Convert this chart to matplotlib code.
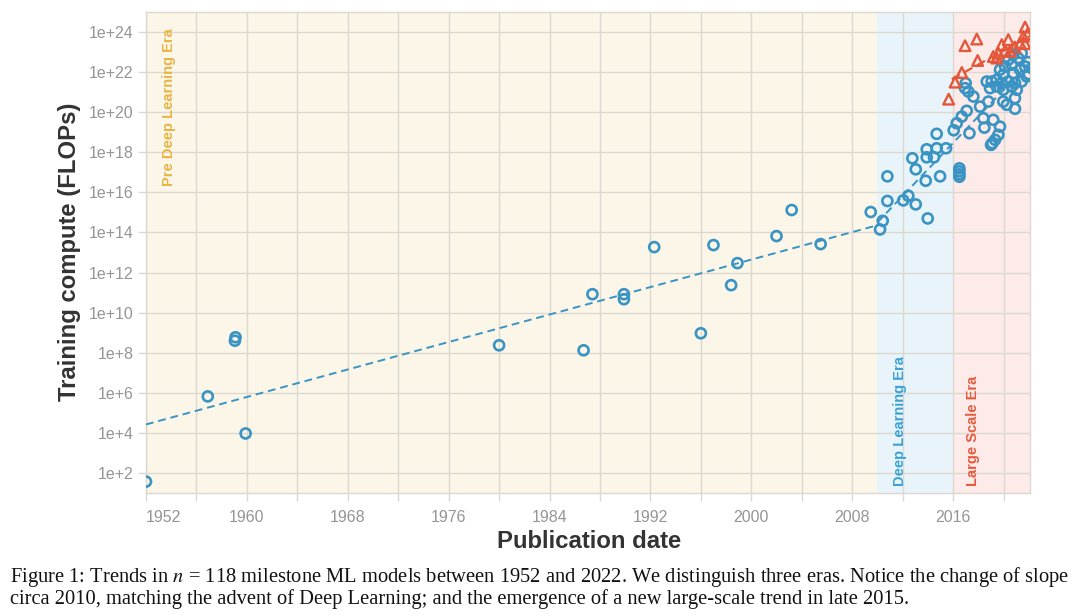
import numpy as np
import matplotlib
matplotlib.use("Agg")
import matplotlib.pyplot as plt

# ---------------- data (publication year, log10 FLOPs) ----------------
blue_year = [1952.0, 1956.9, 1959.05, 1959.1, 1959.9, 1980.0, 1986.7, 1987.4, 1989.9, 1989.9,
             1992.3, 1996.0, 1997.0, 1998.4, 1998.9, 2002.0, 2003.2, 2005.5, 2009.47, 2010.21,
             2010.42,
             2010.79, 2010.79, 2012.05, 2012.45, 2013.04, 2013.04, 2012.77, 2013.91, 2014.49,
             2013.83, 2014.97, 2013.99, 2013.91, 2014.70, 2015.44, 2014.70,
             2016.5, 2016.5, 2016.5, 2016.5,
             2016.05, 2016.29, 2016.69, 2016.95, 2017.0, 2017.21, 2017.08, 2017.61, 2018.14, 2018.80,
             2018.40, 2018.48, 2017.30, 2019.19, 2019.72, 2019.59, 2019.33, 2019.11, 2019.01,
             2018.93, 2019.46, 2019.98, 2020.65, 2021.05, 2019.98, 2020.26, 2020.91, 2020.91,
             2019.72, 2020.12, 2020.65, 2021.17, 2021.44, 2020.78, 2020.38, 2019.98, 2020.78,
             2021.31, 2021.71, 2021.84, 2021.44, 2020.91, 2020.38, 2019.86, 2019.46, 2019.06,
             2018.67, 2021.95, 2022.0]
blue_log = [1.57, 5.82, 8.6, 8.77, 3.97, 8.37, 8.12, 10.92, 10.92, 10.67,
            13.27, 8.97, 13.37, 11.37, 12.47, 13.82, 15.12, 13.42, 15.02, 14.15,
            14.58,
            16.8, 15.57, 15.6, 15.83, 15.4, 17.15, 17.7, 17.75, 17.75,
            16.58, 16.8, 14.7, 18.15, 18.2, 18.2, 18.92,
            17.2, 17.05, 16.9, 16.78,
            19.1, 19.45, 19.78, 21.2, 21.45, 21.03, 20.07, 20.78, 20.28, 20.53,
            19.7, 19.23, 18.95, 19.62, 19.28, 18.87, 18.62, 18.45, 18.37,
            21.2, 21.28, 21.12, 21.28, 21.12, 20.53, 20.37, 20.7, 20.17,
            22.12, 22.28, 22.37, 22.7, 22.95, 22.87, 22.62, 21.87, 21.95,
            22.12, 22.28, 21.78, 21.53, 21.45, 21.53, 21.45, 21.62, 21.53,
            21.53, 22.5, 21.9]

red_year = [2015.65, 2016.16, 2016.69, 2016.95, 2017.88, 2017.95, 2019.19, 2019.46, 2019.59,
            2019.86, 2020.12, 2020.38, 2020.52, 2021.31, 2021.57, 2021.71, 2021.71, 2021.9,
            2020.9]
red_log = [20.65, 21.5, 21.98, 23.32, 23.65, 22.58, 22.78, 22.7, 22.95,
           23.37, 23.08, 23.62, 23.03, 23.45, 23.78, 24.25, 23.42, 23.9,
           23.25]

# trend lines (endpoints: year, log10 FLOPs)
pre_dl_trend_year = [1952.0, 2010.0]
pre_dl_trend_log = [4.42, 14.36]
dl_trend_year = [2010.0, 2022.1]
dl_trend_log = [14.5, 22.5]
ls_trend_year = [2015.9, 2022.1]
ls_trend_log = [21.65, 23.8]

# eras
era_names = ["Pre Deep Learning Era", "Deep Learning Era", "Large Scale Era"]
era_start = [1952.0, 2010.0, 2016.0]
era_end = [2010.0, 2016.0, 2022.1]

x_ticks = list(range(1952, 2021, 4))
x_labels = [str(y) if (y - 1952) % 8 == 0 else "" for y in x_ticks]
y_exps = list(range(2, 25, 2))
y_labels = [f"1e+{e}" for e in y_exps]

caption_lines = [
    r"Figure 1: Trends in $n$ = 118 milestone ML models between 1952 and 2022. We distinguish three eras. Notice the change of slope",
    "circa 2010, matching the advent of Deep Learning; and the emergence of a new large-scale trend in late 2015.",
]

# ---------------- style ----------------
BLUE = "#3a94c3"
RED = "#e4573a"
band_colors = ["#fbf6e8", "#e8f4fa", "#fdebea"]
text_colors = ["#e8b443", "#38a2d6", "#e45a3c"]
GRID = "#dcd8cf"
TICKC = "#959595"

plt.rcParams["font.family"] = ["Liberation Sans", "DejaVu Sans"]
plt.rcParams["mathtext.fontset"] = "stix"

fig = plt.figure(figsize=(10.8, 6.16), dpi=100)
ax = fig.add_axes([146 / 1080, 1 - 493 / 616, (1030 - 146) / 1080, (493 - 12) / 616])

ax.set_yscale("log")
ax.set_xlim(1952.0, 2022.1)
ax.set_ylim(1e1, 1e25)

for s, e, c in zip(era_start, era_end, band_colors):
    ax.axvspan(s, e, color=c, zorder=0, lw=0)

ax.set_xticks(x_ticks)
ax.set_xticklabels(x_labels)
ax.set_yticks([10.0 ** e for e in y_exps])
ax.set_yticklabels(y_labels)
ax.yaxis.set_minor_locator(matplotlib.ticker.NullLocator())
ax.xaxis.set_minor_locator(matplotlib.ticker.NullLocator())
ax.grid(True, color=GRID, lw=1.0, zorder=1)
ax.set_axisbelow(True)
ax.tick_params(axis="both", colors=GRID, labelcolor=TICKC, labelsize=11.5, length=6, width=1)
ax.tick_params(axis="x", pad=6)
ax.tick_params(axis="y", pad=3)
lbls = ax.get_xticklabels()
lbls[0].set_horizontalalignment("left")
for sp in ax.spines.values():
    sp.set_color(GRID)
    sp.set_linewidth(1.0)

# trend lines
ax.plot(pre_dl_trend_year, [10.0 ** v for v in pre_dl_trend_log], ls=(0, (4, 2.5)), color=BLUE, lw=1.4, zorder=3)
ax.plot(dl_trend_year, [10.0 ** v for v in dl_trend_log], ls=(0, (4, 2.5)), color=BLUE, lw=1.4, zorder=3)
ax.plot(ls_trend_year, [10.0 ** v for v in ls_trend_log], ls=(0, (4, 2.5)), color=RED, lw=1.6, zorder=3)

# points
ax.scatter(blue_year, [10.0 ** v for v in blue_log], s=52, facecolors="none",
           edgecolors=BLUE, linewidths=1.9, zorder=4)
ax.scatter(red_year, [10.0 ** v for v in red_log], s=58, marker="^", facecolors="none",
           edgecolors=RED, linewidths=1.7, zorder=5)

# era labels
ax.text(1953.8, 10 ** 24.2, era_names[0], rotation=90, ha="center", va="top",
        color=text_colors[0], fontsize=10.5, fontweight="bold")
ax.text(2011.8, 10 ** 1.35, era_names[1], rotation=90, ha="center", va="bottom",
        color=text_colors[1], fontsize=10.5, fontweight="bold")
ax.text(2017.6, 10 ** 1.35, era_names[2], rotation=90, ha="center", va="bottom",
        color=text_colors[2], fontsize=10.5, fontweight="bold")

fig.text(589 / 1080, 1 - 541 / 616, "Publication date", ha="center", va="center",
         fontsize=17.2, fontweight="bold", color="#333333")
fig.text(70 / 1080, 1 - 252 / 616, "Training compute (FLOPs)", ha="center", va="center",
         rotation=90, fontsize=17.2, fontweight="bold", color="#333333")

fig.text(10 / 1080, 1 - 577 / 616, caption_lines[0], ha="left", va="center",
         fontsize=14.78, family=["Liberation Serif", "DejaVu Serif"], color="#111111")
fig.text(10 / 1080, 1 - 599 / 616, caption_lines[1], ha="left", va="center",
         fontsize=14.78, family=["Liberation Serif", "DejaVu Serif"], color="#111111")

fig.savefig("out.png", dpi=100)
